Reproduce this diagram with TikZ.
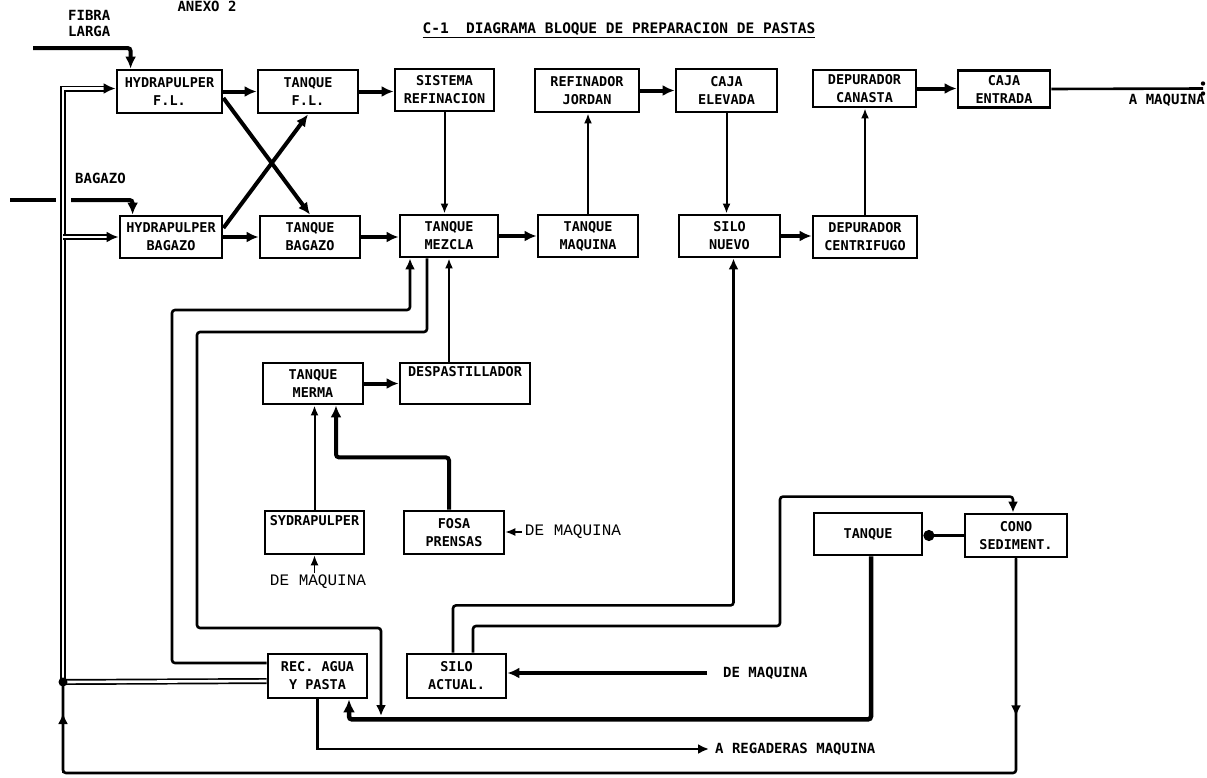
\documentclass[tikz,border=0pt]{standalone}
\usepackage{fontspec}
\setmainfont{Liberation Sans}
\newfontfamily\gothic{DejaVu Sans Mono}
\newfontfamily\typew{Liberation Mono}
\usetikzlibrary{calc,arrows.meta}

\begin{document}
\begin{tikzpicture}[x=1pt,y=-1pt]
\tikzstyle{every node}+=[inner sep=0pt]
\tikzstyle{blk}=[draw=black, line width=2.8pt, align=center, font=\gothic\bfseries\fontsize{13.5}{18}\selectfont]
\tikzstyle{lbl}=[align=left, font=\gothic\bfseries\fontsize{14}{16}\selectfont]
\tikzstyle{thk}=[line width=4pt, -{Latex[length=12pt,width=11pt]}]
\tikzstyle{mid}=[line width=2.6pt, -{Latex[length=11pt,width=10pt]}]
\tikzstyle{thn}=[line width=2pt, -{Latex[length=10pt,width=8pt]}]
\tikzstyle{dbl}=[double, line width=1.7pt, double distance=2.6pt]
\useasboundingbox[fill=white] (0,0) rectangle (1207,777);
\node[lbl] (anexo) at (207,6) {ANEXO 2};
\node[font=\gothic\bfseries\fontsize{14.5}{16}\selectfont] (title) at (619,30) {\underline{C-1\ \ DIAGRAMA BLOQUE DE PREPARACION DE PASTAS}};
\node[blk, minimum width=105pt, minimum height=43pt] (hpfl) at (169.5,91.5) {HYDRAPULPER\\F.L.};
\node[blk, minimum width=100pt, minimum height=43pt] (tqfl) at (308,91.5) {TANQUE\\F.L.};
\node[blk, minimum width=99pt, minimum height=42pt] (sisref) at (444.5,90) {SISTEMA\\REFINACION};
\node[blk, minimum width=104pt, minimum height=43pt] (refjor) at (587,90.5) {REFINADOR\\JORDAN};
\node[blk, minimum width=101pt, minimum height=43pt] (cajel) at (726.5,90.5) {CAJA\\ELEVADA};
\node[blk, minimum width=103pt, minimum height=37pt] (depcan) at (864.5,88.5) {DEPURADOR\\CANASTA};
\node[blk, minimum width=92pt, minimum height=37pt] (cajent) at (1004,89) {CAJA\\ENTRADA};
\node[blk, minimum width=102pt, minimum height=42pt] (hpbag) at (171,237) {HYDRAPULPER\\BAGAZO};
\node[blk, minimum width=100pt, minimum height=42pt] (tqbag) at (310,237) {TANQUE\\BAGAZO};
\node[blk, minimum width=98pt, minimum height=42pt] (tqmez) at (449,236) {TANQUE\\MEZCLA};
\node[blk, minimum width=100pt, minimum height=42pt] (tqmaq) at (588,236) {TANQUE\\MAQUINA};
\node[blk, minimum width=101pt, minimum height=42pt] (silonu) at (729.5,236) {SILO\\NUEVO};
\node[blk, minimum width=104pt, minimum height=42pt] (depcen) at (865,237) {DEPURADOR\\CENTRIFUGO};
\node[blk, minimum width=100pt, minimum height=41pt] (tqmer) at (313,383.5) {TANQUE\\MERMA};
\node[blk, minimum width=130pt, minimum height=41pt] (despas) at (465,383.5) {DESPASTILLADOR\\\strut};
\node[blk, minimum width=99pt, minimum height=43pt] (sydra) at (314.5,532.5) {SYDRAPULPER\\\strut};
\node[blk, minimum width=100pt, minimum height=43pt] (fosa) at (454,532.5) {FOSA\\PRENSAS};
\node[blk, minimum width=108pt, minimum height=42pt] (tanque) at (868,534) {TANQUE};
\node[blk, minimum width=102pt, minimum height=43pt] (cono) at (1016,535.5) {CONO\\SEDIMENT.};
\node[blk, minimum width=99pt, minimum height=44pt] (recagua) at (317.5,676) {REC. AGUA\\Y PASTA};
\node[blk, minimum width=99pt, minimum height=44pt] (siloac) at (456.5,676) {SILO\\ACTUAL.};
\node[lbl, anchor=north west] (fibra) at (68,10) {FIBRA\\LARGA};
\node[lbl, anchor=west] (bagazo) at (75,178) {BAGAZO};
\node[lbl, anchor=east] (amaq) at (1205,100) {A MAQUINA};
\node[font=\typew\fontsize{16}{18}\selectfont] (demaqa) at (318,582) {DE MAQUINA};
\node[font=\typew\fontsize{16}{18}\selectfont] (demaqb) at (573,532) {DE MAQUINA};
\node[lbl, anchor=west] (demaqc) at (723,673) {DE MAQUINA};
\node[lbl, anchor=west] (regad) at (715,749) {A REGADERAS MAQUINA};
\coordinate (fibin) at (33,48);
\coordinate (bagin) at (10,200);
\coordinate (bagcut) at (56,200);
\coordinate (bagres) at (71,200);
\coordinate (jl) at (63,682);
\coordinate (botl) at (63,773);
\coordinate (amaqend) at (1203,88.5);
\draw[thk] (hpfl.east) -- (tqfl.west);
\draw[thk] (tqfl.east) -- (tqfl.east -| sisref.west);
\draw[thk] (refjor.east) -- (refjor.east -| cajel.west);
\draw[thk] (depcan.east) -- (depcan.east -| cajent.west);
\draw[line width=2.6pt] (cajent.east) -- (amaqend);
\fill (amaqend) ++(0,-5) circle (2.2pt) ++(0,10) circle (2.2pt);
\draw[thk] (hpbag.east) -- (tqbag.west);
\draw[thk] (tqbag.east) -- (tqbag.east -| tqmez.west);
\draw[thk] (tqmez.east) -- (tqmez.east -| tqmaq.west);
\draw[thk] (silonu.east) -- (silonu.east -| depcen.west);
\draw[thk] ($(hpfl.east)+(0,6.5)$) -- (tqbag.north);
\draw[thk] ($(hpbag.east)+(0,-9)$) -- (tqfl.south);
\draw[thn] (sisref.south) -- (sisref.south |- tqmez.north);
\draw[thn] (tqmaq.north) -- (tqmaq.north |- refjor.south);
\draw[thn] (cajel.south) -- (cajel.south |- silonu.north);
\draw[thn] (depcen.north) -- (depcen.north |- depcan.south);
\draw[thk, rounded corners=3pt] (fibin) -| ($(hpfl.north west)+(15,0)$);
\draw[line width=4pt] (bagin) -- (bagcut);
\draw[thk, rounded corners=3pt] (bagres) -| ($(hpbag.north west)+(14,0)$);
\draw[dbl] ($(recagua.west)+(0,5)$) -- (jl);
\draw[dbl] (jl) |- ($(hpfl.west)+(-10,-3)$);
\draw[thk] ($(hpfl.west)+(-12,-3)$) -- ($(hpfl.west)+(0,-3)$);
\draw[dbl] (jl |- hpbag.west) -- ($(hpbag.west)+(-10,0)$);
\draw[thk] ($(hpbag.west)+(-12,0)$) -- (hpbag.west);
\draw[line width=2.6pt, rounded corners=3pt] (cono.south) |- (botl) -- (jl);
\fill (jl) circle (4.5pt);
\draw[mid] (cono.south) -- ($(cono.south)+(0,158)$);
\draw[mid] (botl) -- ($(botl)+(0,-60)$);
\draw[thk] (tqmer.east) -- (despas.west);
\draw[thn] (despas.north -| tqmez.south) -- (tqmez.south);
\draw[thn] (sydra.north) -- (sydra.north |- tqmer.south);
\draw[thk, rounded corners=3pt] ($(fosa.north)+(-5,0)$) |- ($(tqmer.south)+(23,52)$) -- ($(tqmer.south)+(23,0)$);
\draw[thn, line width=1.4pt, shorten <=2pt] (demaqa.north -| sydra.south) -- (sydra.south);
\draw[thn, line width=1.4pt, shorten <=3pt] (demaqb.west) -- (demaqb.west -| fosa.east);
\draw[mid, rounded corners=3pt] ($(recagua.west)+(0,-13)$) -| (172,310) -| ($(tqmez.south)+(-39,0)$);
\draw[mid, rounded corners=3pt] ($(tqmez.south)+(-22,0)$) |- (197,332) |- (381,628) -- (381,716);
\draw[line width=4.5pt, -{Latex[length=13pt,width=12pt]}, rounded corners=3pt] ($(tanque.south)+(3,0)$) |- ($(recagua.south)+(31.5,20)$) -- ($(recagua.south)+(31.5,0)$);
\draw[mid, shorten >=6pt] (recagua.south) |- (regad.west);
\draw[thk, shorten <=16pt] (demaqc.west) -- (demaqc.west -| siloac.east);
\draw[mid, rounded corners=3pt] ($(siloac.north)+(-3.5,0)$) |- ($(silonu.south)+(4,347)$) -- ($(silonu.south)+(4,0)$);
\draw[mid, rounded corners=3pt] ($(siloac.north)+(16.5,0)$) |- (780,626) |- ($(cono.north)+(-3,-16)$) -- ($(cono.north)+(-3,0)$);
\draw[line width=2.6pt, -{Circle[length=11pt]}] (cono.west) -- (cono.west -| tanque.east);
\end{tikzpicture}
\end{document}
